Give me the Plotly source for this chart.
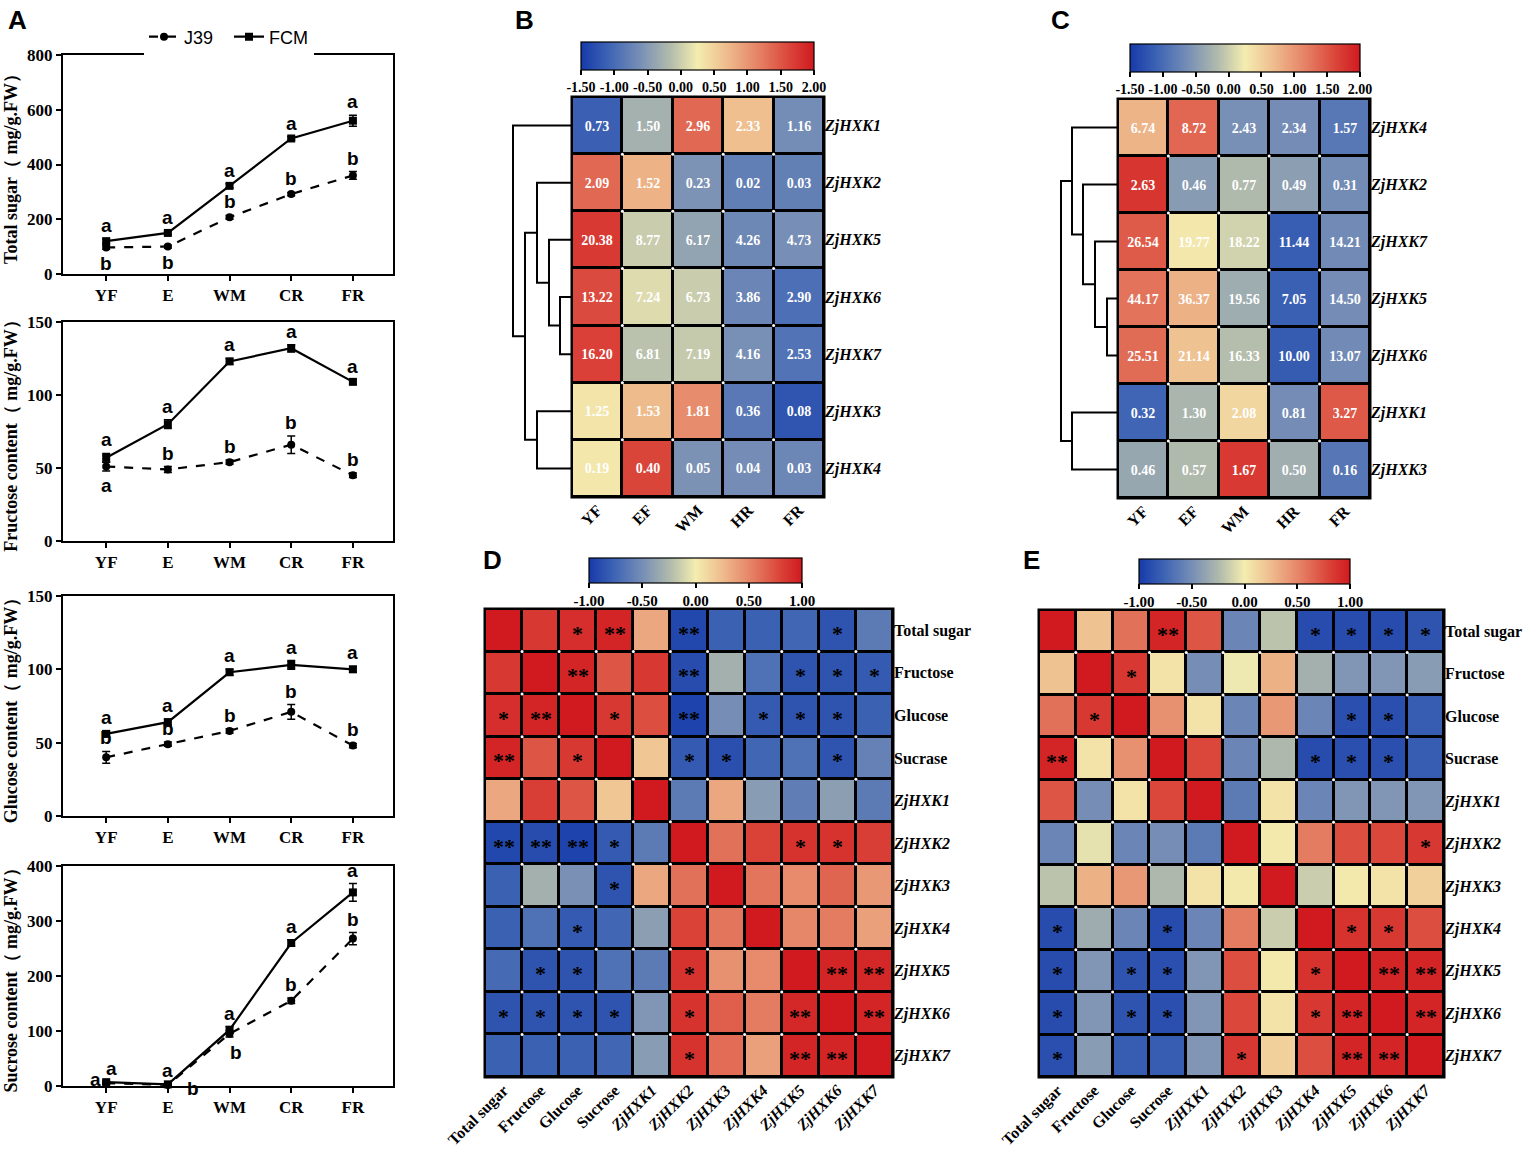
import numpy as np
import plotly.graph_objects as go

W, H = 1535, 1152
def fx(p): return p / W
def fy(p): return 1 - p / H

SERIF = "Liberation Serif"
SANS = "Liberation Sans"

# ---------------- Panel A data ----------------
stages = ["YF", "E", "WM", "CR", "FR"]

ts_j39 = [97, 100, 207, 292, 360]
ts_j39_err = [7, 5, 7, 6, 14]
ts_fcm = [120, 150, 322, 495, 560]
ts_fcm_err = [8, 6, 8, 6, 20]

fru_j39 = [51, 49, 54, 66, 45]
fru_j39_err = [3, 2, 1.5, 6, 1.5]
fru_fcm = [57, 80, 123, 132, 109]
fru_fcm_err = [3, 3, 2, 2.5, 1.5]

glu_j39 = [40, 49, 58, 71, 48]
glu_j39_err = [4, 1.5, 1.5, 5, 1.5]
glu_fcm = [56, 64, 98, 103, 100]
glu_fcm_err = [2, 2, 2, 3, 2]

suc_j39 = [5, 2, 95, 155, 268]
suc_j39_err = [2, 1, 6, 5, 11]
suc_fcm = [7, 3, 102, 260, 352]
suc_fcm_err = [2, 1, 6, 6, 16]

ts_j39_let = ["b", "b", "b", "b", "b"]
ts_fcm_let = ["a", "a", "a", "a", "a"]
fru_j39_let = ["a", "b", "b", "b", "b"]
fru_fcm_let = ["a", "a", "a", "a", "a"]
glu_j39_let = ["b", "b", "b", "b", "b"]
glu_fcm_let = ["a", "a", "a", "a", "a"]
suc_j39_let = ["a", "b", "b", "b", "b"]
suc_fcm_let = ["a", "a", "a", "a", "a"]

# ---------------- Panel B / C data ----------------
hm_stages = ["YF", "EF", "WM", "HR", "FR"]
B_genes = ["ZjHXK1", "ZjHXK2", "ZjHXK5", "ZjHXK6", "ZjHXK7", "ZjHXK3", "ZjHXK4"]
B_values = [
    [0.73, 1.50, 2.96, 2.33, 1.16],
    [2.09, 1.52, 0.23, 0.02, 0.03],
    [20.38, 8.77, 6.17, 4.26, 4.73],
    [13.22, 7.24, 6.73, 3.86, 2.90],
    [16.20, 6.81, 7.19, 4.16, 2.53],
    [1.25, 1.53, 1.81, 0.36, 0.08],
    [0.19, 0.40, 0.05, 0.04, 0.03],
]
# dendrogram merges: [child, child, height]; leaves 0..6, merges numbered 7..
B_links = [[3, 4, 12], [2, 7, 23], [1, 8, 35], [5, 6, 35], [9, 10, 47], [0, 11, 59]]

C_genes = ["ZjHXK4", "ZjHXK2", "ZjHXK7", "ZjHXK5", "ZjHXK6", "ZjHXK1", "ZjHXK3"]
C_values = [
    [6.74, 8.72, 2.43, 2.34, 1.57],
    [2.63, 0.46, 0.77, 0.49, 0.31],
    [26.54, 19.77, 18.22, 11.44, 14.21],
    [44.17, 36.37, 19.56, 7.05, 14.50],
    [25.51, 21.14, 16.33, 10.00, 13.07],
    [0.32, 1.30, 2.08, 0.81, 3.27],
    [0.46, 0.57, 1.67, 0.50, 0.16],
]
C_links = [[3, 4, 11], [2, 7, 23], [1, 8, 35], [0, 9, 46], [5, 6, 46], [10, 11, 57]]

# ---------------- Panel D / E data ----------------
corr_rows = ["Total sugar", "Fructose", "Glucose", "Sucrase", "ZjHXK1", "ZjHXK2",
             "ZjHXK3", "ZjHXK4", "ZjHXK5", "ZjHXK6", "ZjHXK7"]
corr_cols = ["Total sugar", "Fructose", "Glucose", "Sucrose", "ZjHXK1", "ZjHXK2",
             "ZjHXK3", "ZjHXK4", "ZjHXK5", "ZjHXK6", "ZjHXK7"]

D_r = [
    [1.00, 0.85, 0.90, 0.95, 0.35, -0.92, -0.78, -0.78, -0.75, -0.85, -0.62],
    [0.85, 1.00, 0.95, 0.72, 0.85, -0.90, -0.30, -0.68, -0.85, -0.85, -0.82],
    [0.90, 0.95, 1.00, 0.85, 0.75, -0.95, -0.50, -0.82, -0.85, -0.85, -0.78],
    [0.95, 0.72, 0.85, 1.00, 0.20, -0.82, -0.88, -0.75, -0.68, -0.85, -0.58],
    [0.35, 0.82, 0.72, 0.20, 1.00, -0.62, 0.35, -0.42, -0.60, -0.40, -0.62],
    [-0.92, -0.90, -0.95, -0.82, -0.62, 1.00, 0.60, 0.80, 0.88, 0.88, 0.82],
    [-0.78, -0.30, -0.48, -0.85, 0.35, 0.60, 1.00, 0.58, 0.48, 0.65, 0.42],
    [-0.78, -0.68, -0.82, -0.75, -0.40, 0.80, 0.58, 1.00, 0.50, 0.55, 0.38],
    [-0.72, -0.85, -0.85, -0.68, -0.62, 0.88, 0.45, 0.48, 1.00, 0.95, 0.93],
    [-0.85, -0.85, -0.85, -0.85, -0.45, 0.88, 0.68, 0.55, 0.93, 1.00, 0.95],
    [-0.78, -0.78, -0.78, -0.75, -0.42, 0.88, 0.62, 0.38, 0.95, 0.95, 1.00],
]
D_sig = [
    ["", "", "*", "**", "", "**", "", "", "", "*", ""],
    ["", "", "**", "", "", "**", "", "", "*", "*", "*"],
    ["*", "**", "", "*", "", "**", "", "*", "*", "*", ""],
    ["**", "", "*", "", "", "*", "*", "", "", "*", ""],
    ["", "", "", "", "", "", "", "", "", "", ""],
    ["**", "**", "**", "*", "", "", "", "", "*", "*", ""],
    ["", "", "", "*", "", "", "", "", "", "", ""],
    ["", "", "*", "", "", "", "", "", "", "", ""],
    ["", "*", "*", "", "", "*", "", "", "", "**", "**"],
    ["*", "*", "*", "*", "", "*", "", "", "**", "", "**"],
    ["", "", "", "", "", "*", "", "", "**", "**", ""],
]

E_r = [
    [1.00, 0.22, 0.60, 0.95, 0.72, -0.55, -0.20, -0.90, -0.90, -0.90, -0.85],
    [0.22, 1.00, 0.85, 0.05, -0.50, -0.02, 0.30, -0.30, -0.45, -0.45, -0.42],
    [0.60, 0.85, 1.00, 0.45, 0.05, -0.55, 0.42, -0.55, -0.88, -0.88, -0.80],
    [0.95, 0.05, 0.45, 1.00, 0.78, -0.55, -0.25, -0.90, -0.88, -0.88, -0.80],
    [0.72, -0.50, 0.05, 0.78, 1.00, -0.62, 0.05, -0.55, -0.45, -0.45, -0.45],
    [-0.55, -0.05, -0.55, -0.50, -0.62, 1.00, 0.02, 0.55, 0.75, 0.78, 0.85],
    [-0.20, 0.30, 0.42, -0.25, 0.05, 0.02, 1.00, -0.15, 0.02, 0.05, 0.15],
    [-0.90, -0.32, -0.55, -0.90, -0.55, 0.55, -0.15, 1.00, 0.88, 0.85, 0.75],
    [-0.90, -0.45, -0.85, -0.88, -0.45, 0.75, 0.02, 0.88, 1.00, 0.95, 0.95],
    [-0.90, -0.45, -0.85, -0.88, -0.45, 0.78, 0.05, 0.85, 0.95, 1.00, 0.95],
    [-0.88, -0.42, -0.80, -0.80, -0.45, 0.85, 0.15, 0.75, 0.95, 0.95, 1.00],
]
E_sig = [
    ["", "", "", "**", "", "", "", "*", "*", "*", "*"],
    ["", "", "*", "", "", "", "", "", "", "", ""],
    ["", "*", "", "", "", "", "", "", "*", "*", ""],
    ["**", "", "", "", "", "", "", "*", "*", "*", ""],
    ["", "", "", "", "", "", "", "", "", "", ""],
    ["", "", "", "", "", "", "", "", "", "", "*"],
    ["", "", "", "", "", "", "", "", "", "", ""],
    ["*", "", "", "*", "", "", "", "", "*", "*", ""],
    ["*", "", "*", "*", "", "", "", "*", "", "**", "**"],
    ["*", "", "*", "*", "", "", "", "*", "**", "", "**"],
    ["*", "", "", "", "", "*", "", "", "**", "**", ""],
]

# ---------------- styles ----------------
CSCALE = [
    [0.0, "rgb(22,58,170)"],
    [0.12, "rgb(62,100,180)"],
    [0.25, "rgb(118,142,182)"],
    [0.38, "rgb(176,186,172)"],
    [0.5, "rgb(244,237,176)"],
    [0.63, "rgb(238,186,140)"],
    [0.78, "rgb(228,122,96)"],
    [0.9, "rgb(218,66,56)"],
    [1.0, "rgb(208,26,32)"],
]

fig = go.Figure()
annotations = []
shapes = []
layout = {}

# ---------------- Panel A line charts ----------------
charts = [
    ("Total sugar（ mg/g.FW）", ts_j39, ts_j39_err, ts_fcm, ts_fcm_err, ts_j39_let, ts_fcm_let,
     ["below", "below", "above", "above", "above"], ["above"] * 5, 55, 274, 800, 200),
    ("Fructose content（ mg/g.FW）", fru_j39, fru_j39_err, fru_fcm, fru_fcm_err, fru_j39_let, fru_fcm_let,
     ["below", "above", "above", "above", "above"], ["above"] * 5, 322, 541, 150, 50),
    ("Glucose content（ mg/g.FW）", glu_j39, glu_j39_err, glu_fcm, glu_fcm_err, glu_j39_let, glu_fcm_let,
     ["above"] * 5, ["above"] * 5, 596, 816, 150, 50),
    ("Sucrose content（ mg/g.FW）", suc_j39, suc_j39_err, suc_fcm, suc_fcm_err, suc_j39_let, suc_fcm_let,
     ["left", "right", "belowright", "above", "above"], ["aboveright", "above", "above", "above", "above"],
     866, 1086, 400, 100),
]

pos = {
    "above": dict(xanchor="center", yanchor="bottom", xshift=0, yshift=1, e=1),
    "below": dict(xanchor="center", yanchor="top", xshift=0, yshift=-2, e=-1),
    "left": dict(xanchor="right", yanchor="middle", xshift=-3, yshift=4, e=0),
    "right": dict(xanchor="left", yanchor="middle", xshift=17, yshift=-4, e=0),
    "belowright": dict(xanchor="center", yanchor="top", xshift=6, yshift=-3, e=-1),
    "aboveright": dict(xanchor="center", yanchor="bottom", xshift=5, yshift=0, e=1),
}

for k, (title, j39, j39e, fcm, fcme, jl, flet, jside, fside, top, bot, ymax, dt) in enumerate(charts):
    n = k + 1
    xa, ya = ("x" if n == 1 else f"x{n}"), ("y" if n == 1 else f"y{n}")
    fig.add_trace(go.Scatter(
        x=stages, y=j39, name="J39", xaxis=xa, yaxis=ya, mode="lines+markers",
        line=dict(color="black", width=2.2, dash="dash"),
        marker=dict(symbol="circle", size=8, color="black"),
        error_y=dict(type="data", array=j39e, color="black", thickness=1.5, width=4),
        showlegend=(n == 1), cliponaxis=False))
    fig.add_trace(go.Scatter(
        x=stages, y=fcm, name="FCM", xaxis=xa, yaxis=ya, mode="lines+markers",
        line=dict(color="black", width=2.2),
        marker=dict(symbol="square", size=8, color="black"),
        error_y=dict(type="data", array=fcme, color="black", thickness=1.5, width=4),
        showlegend=(n == 1), cliponaxis=False))
    layout[f"xaxis{n}"] = dict(
        domain=[fx(63), fx(393)], range=[-0.7, 4.65], anchor=ya, type="category",
        showline=True, linecolor="black", linewidth=2, mirror=True, automargin=False,
        ticks="outside", ticklen=5, tickwidth=2, tickcolor="black",
        tickfont=dict(family=SERIF, size=17, color="black", weight="bold"),
        showgrid=False, zeroline=False)
    layout[f"yaxis{n}"] = dict(
        domain=[fy(bot), fy(top)], range=[0, ymax], dtick=dt, anchor=xa, automargin=False,
        showline=True, linecolor="black", linewidth=2, mirror=True,
        ticks="outside", ticklen=5, tickwidth=2, tickcolor="black",
        tickfont=dict(family=SERIF, size=17, color="black", weight="bold"),
        title=dict(text=title, font=dict(family=SERIF, size=18, color="black", weight="bold"),
                   standoff=5),
        showgrid=False, zeroline=False)
    for vals, errs, lets, sides in ((j39, j39e, jl, jside), (fcm, fcme, flet, fside)):
        for i in range(5):
            p = pos[sides[i]]
            annotations.append(dict(
                x=stages[i], y=vals[i] + p["e"] * errs[i], xref=xa, yref=ya, text=lets[i],
                showarrow=False, xanchor=p["xanchor"], yanchor=p["yanchor"],
                xshift=p["xshift"], yshift=p["yshift"],
                font=dict(family=SANS, size=19, color="black", weight="bold")))

# ---------------- helpers ----------------
def dendro_xy(links, n):
    node = {i: (float(i), 0.0) for i in range(n)}
    xs, ys = [], []
    for k, (a, b, h) in enumerate(links):
        ya_, ha = node[a]
        yb_, hb = node[b]
        xs += [ha, h, h, hb, None]
        ys += [ya_, ya_, yb_, yb_, None]
        node[n + k] = ((ya_ + yb_) / 2, h)
    return xs, ys

def zrows(vals):
    a = np.array(vals, dtype=float)
    return (a - a.mean(axis=1, keepdims=True)) / a.std(axis=1, ddof=1, keepdims=True)

def colorbar(cx, w, top, th, vals, fs):
    return dict(orientation="h", x=fx(cx), xanchor="center", y=fy(top), yanchor="top",
                lenmode="pixels", len=w, thicknessmode="pixels", thickness=th,
                xpad=0, ypad=0, outlinewidth=1.2, outlinecolor="black",
                tickvals=vals, ticktext=[f"{v:.2f}" for v in vals], tickangle=0,
                ticks="outside", ticklen=5, tickwidth=1.5, tickcolor="black",
                tickfont=dict(family=SERIF, size=fs, color="black", weight="bold"))

def grid_dots(xa, ya, nr, nc):
    xs, ys = [], []
    for i in range(nr - 1):
        for j in range(nc - 1):
            xs.append(j + 0.5)
            ys.append(i + 0.5)
    fig.add_trace(go.Scatter(x=xs, y=ys, xaxis=xa, yaxis=ya, mode="markers",
                             marker=dict(size=3, color="white"), showlegend=False,
                             hoverinfo="skip"))

# ---------------- Panels B and C ----------------
def expr_panel(nx, ny, genes, values, links, cx0, cx1, cy0, cy1, dx0, cb):
    xa, ya = f"x{nx}", f"y{nx}"
    z = zrows(values)
    fig.add_trace(go.Heatmap(
        z=z, x=list(range(5)), y=list(range(len(genes))), xaxis=xa, yaxis=ya,
        zmin=-1.5, zmax=2.0, colorscale=CSCALE, xgap=3, ygap=3,
        text=[[f"{v:.2f}" for v in row] for row in values], texttemplate="%{text}",
        textfont=dict(family=SERIF, size=14, color="white", weight="bold"),
        hoverinfo="skip", colorbar=cb))
    grid_dots(xa, ya, len(genes), 5)
    layout[f"xaxis{nx}"] = dict(
        domain=[fx(cx0), fx(cx1)], range=[-0.5, 4.5], anchor=ya, automargin=False,
        tickvals=list(range(5)), ticktext=hm_stages, tickangle=-45, ticks="",
        tickfont=dict(family=SERIF, size=16, color="black", weight="bold"),
        showgrid=False, zeroline=False, showline=False)
    layout[f"yaxis{nx}"] = dict(
        domain=[fy(cy1), fy(cy0)], range=[len(genes) - 0.5, -0.5], anchor=xa, side="right",
        automargin=False,
        tickvals=list(range(len(genes))), ticktext=[f"<i>{g}</i>" for g in genes], ticks="",
        tickfont=dict(family=SERIF, size=16, color="black", weight="bold"),
        showgrid=False, zeroline=False, showline=False)
    shapes.append(dict(type="rect", xref=f"{xa} domain", yref=f"{ya} domain",
                       x0=0, x1=1, y0=0, y1=1, fillcolor="black",
                       line=dict(color="black", width=3), layer="below"))
    xd, yd = f"x{ny}", f"y{ny}"
    xs, ys = dendro_xy(links, len(genes))
    fig.add_trace(go.Scatter(x=xs, y=ys, xaxis=xd, yaxis=yd, mode="lines",
                             line=dict(color="black", width=2), showlegend=False,
                             hoverinfo="skip", cliponaxis=False))
    layout[f"xaxis{ny}"] = dict(domain=[fx(dx0), fx(cx0)], range=[cx0 - dx0, 0], anchor=yd,
                                visible=False, automargin=False)
    layout[f"yaxis{ny}"] = dict(domain=[fy(cy1), fy(cy0)], range=[len(genes) - 0.5, -0.5],
                                anchor=xd, visible=False, automargin=False)

expr_panel(5, 6, B_genes, B_values, B_links, 572, 824, 97, 497, 508,
           colorbar(697.5, 233, 42, 28, [-1.5, -1.0, -0.5, 0.0, 0.5, 1.0, 1.5, 2.0], 14))
expr_panel(7, 8, C_genes, C_values, C_links, 1118, 1370, 99, 498, 1054,
           colorbar(1245, 230, 44, 28, [-1.5, -1.0, -0.5, 0.0, 0.5, 1.0, 1.5, 2.0], 14))

# ---------------- Panels D and E ----------------
def fmt_label(s):
    return f"<i>{s}</i>" if s.startswith("Zj") else s

def corr_panel(nx, r, sig, cx0, cx1, cy0, cy1, cb):
    xa, ya = f"x{nx}", f"y{nx}"
    n = len(corr_rows)
    fig.add_trace(go.Heatmap(
        z=r, x=list(range(n)), y=list(range(n)), xaxis=xa, yaxis=ya,
        zmin=-1, zmax=1, colorscale=CSCALE, xgap=3, ygap=3,
        hoverinfo="skip", colorbar=cb))
    grid_dots(xa, ya, n, n)
    layout[f"xaxis{nx}"] = dict(
        domain=[fx(cx0), fx(cx1)], range=[-0.5, n - 0.5], anchor=ya, automargin=False,
        tickvals=list(range(n)), ticktext=[fmt_label(c) for c in corr_cols], tickangle=-45,
        ticks="", tickfont=dict(family=SERIF, size=16, color="black", weight="bold"),
        showgrid=False, zeroline=False, showline=False)
    layout[f"yaxis{nx}"] = dict(
        domain=[fy(cy1), fy(cy0)], range=[n - 0.5, -0.5], anchor=xa, side="right",
        automargin=False,
        tickvals=list(range(n)), ticktext=[fmt_label(c) for c in corr_rows], ticks="",
        tickfont=dict(family=SERIF, size=16, color="black", weight="bold"),
        showgrid=False, zeroline=False, showline=False)
    shapes.append(dict(type="rect", xref=f"{xa} domain", yref=f"{ya} domain",
                       x0=0, x1=1, y0=0, y1=1, fillcolor="black",
                       line=dict(color="black", width=3), layer="below"))
    for i in range(n):
        for j in range(n):
            if sig[i][j]:
                annotations.append(dict(x=j, y=i, xref=xa, yref=ya, text=sig[i][j],
                                        showarrow=False, yshift=-3,
                                        font=dict(family=SERIF, size=22, color="black",
                                                  weight="bold")))

corr_panel(9, D_r, D_sig, 485, 893, 609, 1077,
           colorbar(695.5, 213, 558, 25, [-1.0, -0.5, 0.0, 0.5, 1.0], 15))
corr_panel(10, E_r, E_sig, 1039, 1444, 610, 1077,
           colorbar(1244.5, 211, 559, 25, [-1.0, -0.5, 0.0, 0.5, 1.0], 15))

# ---------------- panel letters ----------------
for letter, px_, py_ in [("A", 6, 3), ("B", 513, 3), ("C", 1049, 3), ("D", 481, 543), ("E", 1021, 543)]:
    annotations.append(dict(x=fx(px_), y=fy(py_), xref="paper", yref="paper", text=letter,
                            showarrow=False, xanchor="left", yanchor="top",
                            font=dict(family=SANS, size=26, color="black", weight="bold")))

fig.update_layout(
    width=W, height=H, margin=dict(l=0, r=0, t=0, b=0, autoexpand=False),
    paper_bgcolor="white", plot_bgcolor="white",
    font=dict(family=SERIF, color="black"),
    legend=dict(orientation="h", x=fx(144), y=fy(37), xanchor="left", yanchor="middle",
                font=dict(family=SANS, size=18, color="black"), bgcolor="white",
                entrywidth=40, entrywidthmode="pixels"),
    annotations=annotations, shapes=shapes, **layout)

fig.write_html("out.html", config={"displayModeBar": False},
               post_script="document.body.style.margin='0';")
